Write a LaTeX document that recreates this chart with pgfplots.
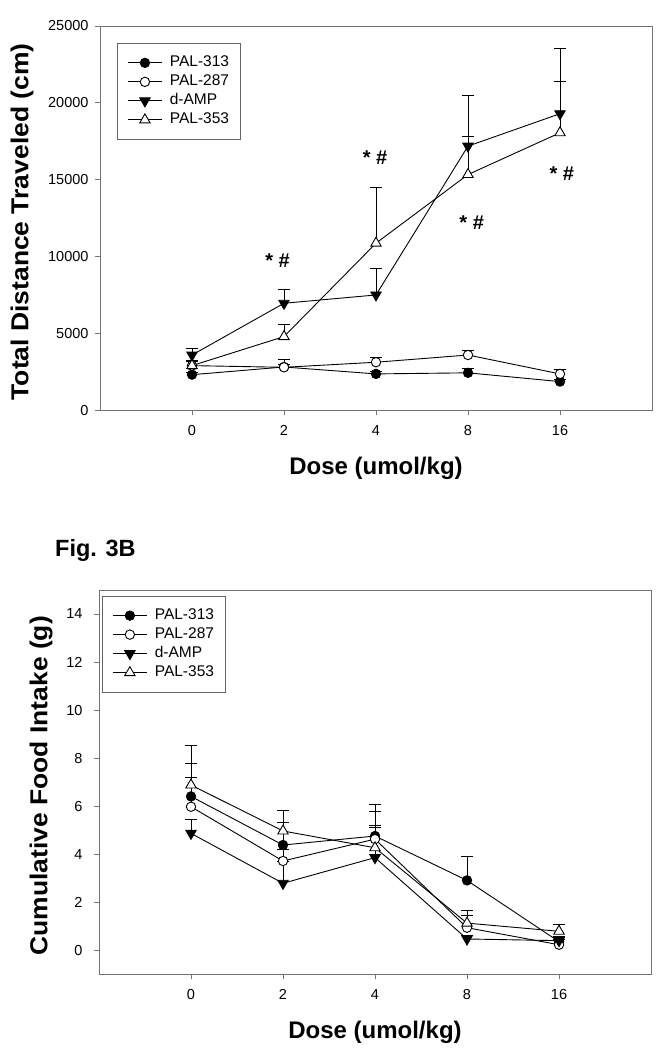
\documentclass[border=0pt]{standalone}
\usepackage{pgfplots}
\pgfplotsset{compat=1.18}
\usepackage{fontspec}
\setmainfont{Liberation Sans}

\tikzset{signif/.style={font=\bfseries\fontsize{20}{22}\selectfont, anchor=center}}

\pgfplotsset{
  sigma/.style={
    scale only axis, width=552pt, height=384pt,
    xmin=-1, xmax=5,
    xtick={0,1,2,3,4}, xticklabels={0,2,4,8,16},
    axis line style={draw=black!55, line width=0.9pt},
    tick style={draw=black!55, line width=0.9pt},
    tick align=outside, major tick length=5pt,
    xtick pos=left, ytick pos=left,
    ticklabel style={font=\fontsize{14.5}{17}\selectfont},
    xticklabel style={yshift=-6.5pt},
    /pgf/number format/assume math mode=true,
    /pgf/number format/1000 sep={},
    scaled y ticks=false,
    label style={font=\bfseries\fontsize{24}{28}\selectfont},
    xlabel style={at={(axis description cs:0.5,-0.151)}, anchor=center},
    legend cell align=left,
    legend style={draw=black!60, line width=0.9pt, font=\fontsize{15.5}{17}\selectfont,
      inner xsep=10pt, inner ysep=11pt, row sep=2.2pt, column sep=6pt,
      nodes={inner sep=1.5pt, text height=10.8pt, text depth=3pt}},
    legend image code/.code={\draw[mark repeat=2,mark phase=2,##1] plot coordinates {(0pt,0pt) (17pt,0pt) (34pt,0pt)};},
    error bars/y dir=plus, error bars/y explicit,
    error bars/error bar style={line width=0.9pt, black},
    error bars/error mark options={rotate=90, line width=0.9pt, mark size=6pt, black},
  },
  s313/.style={black, line width=0.9pt, mark=*, mark size=4.7pt, mark options={fill=black, solid}},
  s287/.style={black, line width=0.9pt, mark=*, mark size=4.7pt, mark options={fill=white, solid}},
  samp/.style={black, line width=0.9pt, mark=triangle*, mark size=6pt, mark options={fill=black, rotate=180, solid}},
  s353/.style={black, line width=0.9pt, mark=triangle*, mark size=6pt, mark options={fill=white, solid}},
}

\begin{document}
\begin{tikzpicture}
\path[use as bounding box] (0pt,0pt) rectangle (663pt,-1050pt);

% Fig. 3A
\begin{axis}[sigma, at={(100pt,-410pt)}, anchor=south west,
  ymin=0, ymax=25000, ytick={0,5000,10000,15000,20000,25000},
  yticklabel style={xshift=-3pt},
  xlabel={Dose (umol/kg)}, ylabel={\scalebox{1.08}[1]{Total Distance Traveled (cm)}},
  ylabel style={at={(axis description cs:-0.1413,0.49)}, anchor=center, font=\bfseries\fontsize{24.5}{28}\selectfont},
  legend style={at={(axis description cs:0.0308,0.9557)}, anchor=north west},
]
\addplot[s313] coordinates {(0,2300) +- (0,150) (1,2800) +- (0,150) (2,2350) +- (0,150) (3,2420) +- (0,270) (4,1850) +- (0,120)};
\addlegendentry{PAL-313}
\addplot[s287] coordinates {(0,2890) +- (0,250) (1,2780) +- (0,480) (2,3110) +- (0,280) (3,3580) +- (0,290) (4,2350) +- (0,280)};
\addlegendentry{PAL-287}
\addplot[samp] coordinates {(0,3580) +- (0,440) (1,6950) +- (0,870) (2,7490) +- (0,1700) (3,17180) +- (0,3280) (4,19290) +- (0,4280)};
\addlegendentry{d-AMP}
\addplot[s353] coordinates {(0,2890) +- (0,330) (1,4780) +- (0,760) (2,10860) +- (0,3610) (3,15330) +- (0,2480) (4,18050) +- (0,3350)};
\addlegendentry{PAL-353}
\node[signif] at (axis cs:0.93,9730) {* \#};
\node[signif] at (axis cs:1.99,16460) {* \#};
\node[signif] at (axis cs:3.04,12230) {* \#};
\node[signif] at (axis cs:4.02,15380) {* \#};
\end{axis}

\node[anchor=base west, font=\bfseries\fontsize{23.5}{26}\selectfont, inner sep=0pt] at (55pt,-556pt) {Fig. 3B};

% Fig. 3B
\begin{axis}[sigma, at={(99pt,-974pt)}, anchor=south west,
  ymin=-1, ymax=15, ytick={0,2,...,14},
  yticklabel style={xshift=-8pt},
  xlabel={Dose (umol/kg)}, ylabel={\scalebox{1.08}[1]{Cumulative Food Intake (g)}},
  ylabel style={at={(axis description cs:-0.1051,0.49)}, anchor=center, font=\bfseries\fontsize{24.5}{28}\selectfont},
  legend style={at={(axis description cs:0.0054,0.985)}, anchor=north west},
]
\addplot[s313] coordinates {(0,6.40) +- (0,1.36) (1,4.375) +- (0,0.95) (2,4.75) +- (0,1.04) (3,2.90) +- (0,0.99) (4,0.35) +- (0,0.20)};
\addlegendentry{PAL-313}
\addplot[s287] coordinates {(0,5.97) +- (0,1.21) (1,3.71) +- (0,0.50) (2,4.62) +- (0,0.59) (3,0.93) +- (0,0.49) (4,0.22) +- (0,0.23)};
\addlegendentry{PAL-287}
\addplot[samp] coordinates {(0,4.86) +- (0,0.56) (1,2.78) +- (0,0.90) (2,3.85) +- (0,1.27) (3,0.46) +- (0,0.15) (4,0.39) +- (0,0.12)};
\addlegendentry{d-AMP}
\addplot[s353] coordinates {(0,6.875) +- (0,1.665) (1,4.96) +- (0,0.87) (2,4.26) +- (0,1.82) (3,1.12) +- (0,0.53) (4,0.78) +- (0,0.30)};
\addlegendentry{PAL-353}
\end{axis}
\end{tikzpicture}
\end{document}
